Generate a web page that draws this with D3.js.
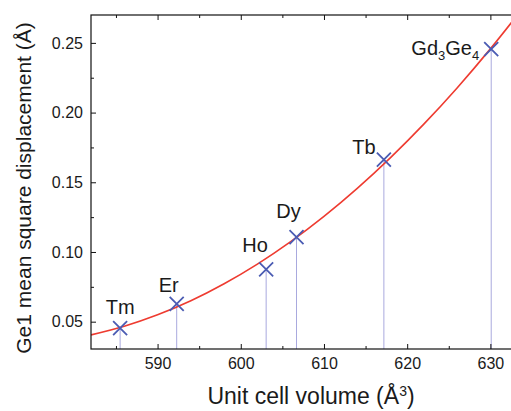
<!DOCTYPE html>
<html>
<head>
<meta charset="utf-8">
<script src="https://cdn.jsdelivr.net/npm/d3@7"></script>
<style>
    body { margin: 0; background: #fff; }
    svg text { font-family: Arial, "Liberation Sans", sans-serif; fill: #1a1a1a; }
</style>
</head>
<body>
<div id="chart"></div>
<script>

// compounds, unit cell volume (Å^3) and Ge1 mean square displacement (Å)
const compounds = ["Tm", "Er", "Ho", "Dy", "Tb", "Gd3Ge4"];
const volumes = [585.5, 592.3, 603.05, 606.7, 617.2, 630.1];
const msd = [0.0453, 0.0627, 0.0876, 0.1106, 0.1663, 0.2455];

// red fit curve
const curveX = [582, 586, 590, 594, 598, 602, 606, 610, 614, 618, 622, 626, 630, 633];
const curveY = [0.0405, 0.0467, 0.0549, 0.0650, 0.0772, 0.0913, 0.1074, 0.1255, 0.1456, 0.1677, 0.1917, 0.2177, 0.2457, 0.2681];

// axis ticks
const xTicks = [590, 600, 610, 620, 630];
const xMinor = [585, 595, 605, 615, 625];
const yTicks = [0.05, 0.10, 0.15, 0.20, 0.25];
const yMinor = [0.075, 0.125, 0.175, 0.225];

// label placement relative to each cross (px)
const labelOffsets = {
    "Tm": [0, -14], "Er": [-8, -12], "Ho": [-11, -17],
    "Dy": [-8, -19], "Tb": [-20, -6], "Gd3Ge4": [-12, 6]
};

let margin = {top: 15, left: 91, bottom: 62, right: -9};
let width = 511 - margin.left - margin.right;
let height = 411 - margin.top - margin.bottom;

let svg = d3.select("#chart").append("svg")
    .attr("width", 511)
    .attr("height", 411);

let g = svg.append("g")
    .attr("transform", `translate(${margin.left}, ${margin.top})`);

let x = d3.scaleLinear().domain([582, 633.56]).range([0, width]);
let y = d3.scaleLinear().domain([0.0304, 0.27]).range([height, 0]);

// clip for plot contents
svg.append("defs").append("clipPath")
    .attr("id", "plot-clip")
    .append("rect")
    .attr("width", width)
    .attr("height", height);

let plot = g.append("g").attr("clip-path", "url(#plot-clip)");

let points = compounds.map((c, i) => ({name: c, x: volumes[i], y: msd[i]}));

// drop lines
plot.selectAll(".drop")
    .data(points)
    .enter().append("line")
    .attr("class", "drop")
    .attr("x1", d => x(d.x))
    .attr("x2", d => x(d.x))
    .attr("y1", d => y(d.y))
    .attr("y2", height)
    .attr("stroke", "#a9a9de")
    .attr("stroke-width", 1);

// fit curve
let line = d3.line()
    .x(d => x(d[0]))
    .y(d => y(d[1]))
    .curve(d3.curveMonotoneX);

plot.append("path")
    .datum(curveX.map((v, i) => [v, curveY[i]]))
    .attr("d", line)
    .attr("fill", "none")
    .attr("stroke", "#ee3b30")
    .attr("stroke-width", 1.6);

// crosses
let s = 7;
plot.selectAll(".cross")
    .data(points)
    .enter().append("path")
    .attr("class", "cross")
    .attr("d", d => {
        let cx = x(d.x), cy = y(d.y);
        return `M${cx - s},${cy - s}L${cx + s},${cy + s}M${cx - s},${cy + s}L${cx + s},${cy - s}`;
    })
    .attr("stroke", "#4b5cb3")
    .attr("stroke-width", 1.8)
    .attr("fill", "none");

// labels
let labels = g.selectAll(".label")
    .data(points)
    .enter().append("text")
    .attr("class", "label")
    .attr("x", d => x(d.x) + labelOffsets[d.name][0])
    .attr("y", d => y(d.y) + labelOffsets[d.name][1])
    .attr("text-anchor", d => d.name === "Gd3Ge4" ? "end" : "middle")
    .style("font-size", "20px");

labels.each(function(d) {
    let t = d3.select(this);
    if (d.name === "Gd3Ge4") {
        t.append("tspan").text("Gd");
        t.append("tspan").text("3").attr("dy", 5).style("font-size", "13px");
        t.append("tspan").text("Ge").attr("dy", -5);
        t.append("tspan").text("4").attr("dy", 5).style("font-size", "13px");
    } else {
        t.text(d.name);
    }
});

// axes with inward ticks
let xAxis = g.append("g")
    .attr("transform", `translate(0, ${height})`)
    .call(d3.axisBottom(x).tickValues(xTicks).tickFormat(d3.format("d"))
        .tickSizeInner(-5).tickSizeOuter(0).tickPadding(9));
g.append("g")
    .attr("transform", `translate(0, ${height})`)
    .call(d3.axisBottom(x).tickValues(xMinor).tickFormat("").tickSizeInner(-3).tickSizeOuter(0));
g.append("g")
    .call(d3.axisTop(x).tickValues(xTicks).tickFormat("").tickSizeInner(-5).tickSizeOuter(0));
g.append("g")
    .call(d3.axisTop(x).tickValues(xMinor).tickFormat("").tickSizeInner(-3).tickSizeOuter(0));

let yAxis = g.append("g")
    .call(d3.axisLeft(y).tickValues(yTicks).tickFormat(d3.format(".2f"))
        .tickSizeInner(-5).tickSizeOuter(0).tickPadding(8));
g.append("g")
    .call(d3.axisLeft(y).tickValues(yMinor).tickFormat("").tickSizeInner(-3).tickSizeOuter(0));

g.selectAll(".domain").remove();
g.selectAll(".tick line").attr("stroke", "#111");
xAxis.selectAll("text").style("font-size", "16px").attr("fill", "#1a1a1a");
yAxis.selectAll("text").style("font-size", "16px").attr("fill", "#1a1a1a");

// frame
g.append("rect")
    .attr("width", width)
    .attr("height", height)
    .attr("fill", "none")
    .attr("stroke", "#111")
    .attr("stroke-width", 1.2);

// axis titles
svg.append("text")
    .attr("x", 311)
    .attr("y", 404)
    .attr("text-anchor", "middle")
    .style("font-size", "23px")
    .html("Unit cell volume (Å<tspan dy='-8' style='font-size:14px'>3</tspan><tspan dy='8'>)</tspan>");

svg.append("text")
    .attr("transform", "translate(31, 188) rotate(-90)")
    .attr("text-anchor", "middle")
    .style("font-size", "21px")
    .text("Ge1 mean square displacement (Å)");

</script>
</body>
</html>
